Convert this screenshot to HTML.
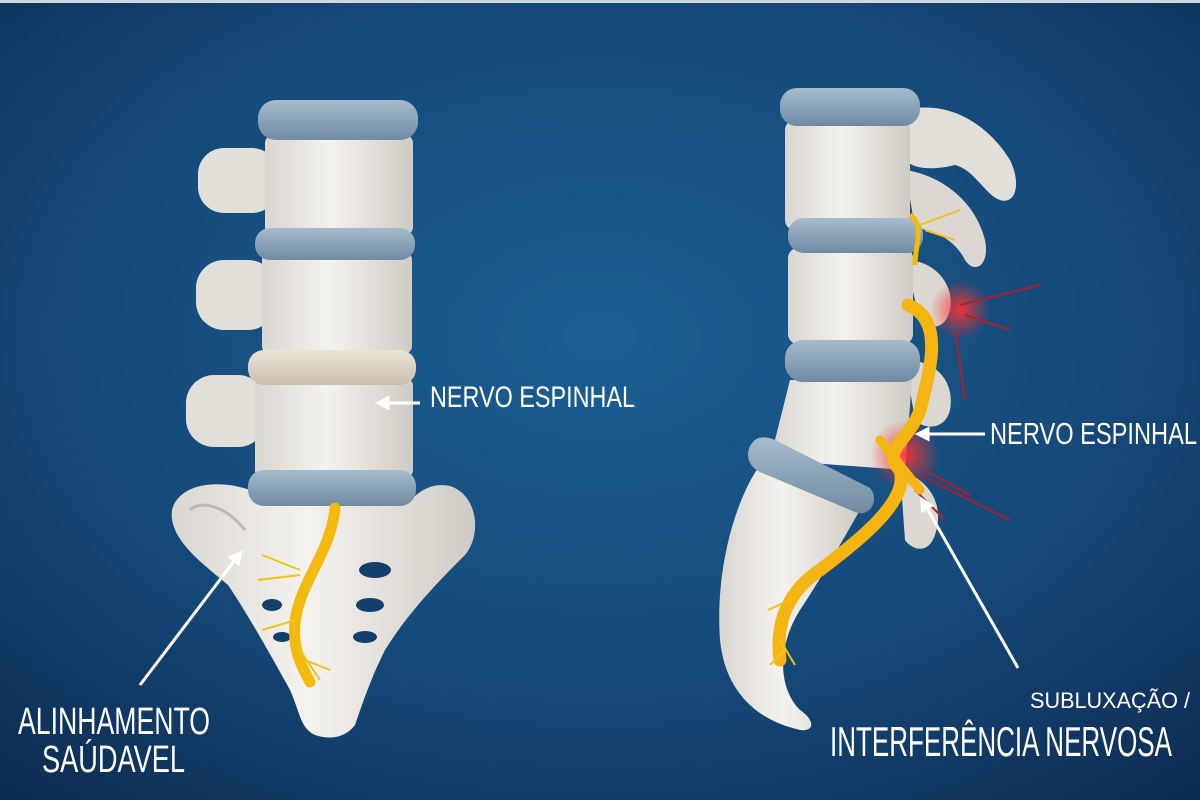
<!DOCTYPE html>
<html><head><meta charset="utf-8"><style>
html,body{margin:0;padding:0;width:1200px;height:800px;overflow:hidden;background:#123a66}
svg{display:block}
text{font-family:"Liberation Sans Narrow","Liberation Sans",sans-serif;fill:#fff}
</style></head><body>
<svg width="1200" height="800" viewBox="0 0 1200 800" xmlns="http://www.w3.org/2000/svg">
<defs>
<radialGradient id="bg" cx="0.5" cy="0.42" r="0.75">
<stop offset="0" stop-color="#1c5f93"/><stop offset="0.6" stop-color="#154878"/><stop offset="1" stop-color="#0d2c52"/>
</radialGradient>
<linearGradient id="bone" x1="0" y1="0" x2="1" y2="0">
<stop offset="0" stop-color="#d9d6d0"/><stop offset="0.45" stop-color="#f4f2ee"/><stop offset="1" stop-color="#cfcbc4"/>
</linearGradient>
<linearGradient id="disc" x1="0" y1="0" x2="0" y2="1">
<stop offset="0" stop-color="#a6bccd"/><stop offset="1" stop-color="#6f8aa2"/>
</linearGradient>
<linearGradient id="discb" x1="0" y1="0" x2="0" y2="1">
<stop offset="0" stop-color="#ebe4d6"/><stop offset="1" stop-color="#c9bfad"/>
</linearGradient>
<radialGradient id="glow"><stop offset="0" stop-color="#ff3030" stop-opacity="0.9"/><stop offset="1" stop-color="#ff3030" stop-opacity="0"/></radialGradient>
<marker id="ah" viewBox="0 0 10 10" refX="5" refY="5" markerWidth="5" markerHeight="5" orient="auto-start-reverse"><path d="M0,0 L10,5 L0,10 z" fill="#fff"/></marker>
</defs>
<rect width="1200" height="800" fill="url(#bg)"/>
<rect width="1200" height="3" fill="#cfd8e0"/>

<!-- LEFT SPINE -->
<g>
<!-- sacrum -->
<path d="M250,490 C215,478 178,485 172,510 C168,540 205,565 228,585 C245,610 268,650 290,690 C300,712 300,728 315,735 C330,740 345,738 355,725 C362,705 370,680 385,650 C410,610 440,580 465,555 C482,535 478,495 450,486 C430,482 420,492 410,500 Z" fill="url(#bone)"/>
<path d="M190,510 C200,500 225,505 245,530" stroke="#bdb8b0" stroke-width="3" fill="none"/>
<ellipse cx="375" cy="570" rx="16" ry="8" fill="#123f6c"/>
<ellipse cx="370" cy="605" rx="14" ry="7" fill="#123f6c"/>
<ellipse cx="365" cy="637" rx="12" ry="6" fill="#123f6c"/>
<ellipse cx="272" cy="605" rx="10" ry="6" fill="#123f6c"/>
<ellipse cx="282" cy="637" rx="9" ry="5" fill="#123f6c"/>
<!-- processes -->
<rect x="198" y="148" width="80" height="65" rx="26" fill="#e2dfd9"/>
<rect x="196" y="260" width="80" height="70" rx="28" fill="#e2dfd9"/>
<rect x="186" y="375" width="80" height="72" rx="28" fill="#e2dfd9"/>
<!-- bodies -->
<rect x="265" y="135" width="148" height="100" rx="8" fill="url(#bone)"/>
<rect x="262" y="252" width="150" height="102" rx="8" fill="url(#bone)"/>
<rect x="255" y="378" width="158" height="100" rx="8" fill="url(#bone)"/>
<!-- discs -->
<rect x="258" y="100" width="160" height="40" rx="18" fill="url(#disc)"/>
<rect x="255" y="228" width="160" height="32" rx="15" fill="url(#disc)"/>
<rect x="248" y="350" width="168" height="35" rx="16" fill="url(#discb)"/>
<rect x="248" y="470" width="168" height="36" rx="16" fill="url(#disc)"/>
<!-- nerve -->
<path d="M335,508 C330,560 290,590 295,640 C297,660 305,672 310,682" stroke="#f2b90e" stroke-width="11" fill="none" stroke-linecap="round"/>
<path d="M300,570 L262,555 M300,575 L258,580 M296,620 L262,630 M300,650 L320,680 M305,660 L330,670" stroke="#f2c21a" stroke-width="2" fill="none"/>
</g>

<!-- RIGHT SPINE -->
<g>
<!-- processes/spinous -->
<path d="M905,110 C945,100 985,120 1010,160 C1022,185 1015,205 1000,200 C985,195 975,170 955,165 C935,170 915,170 905,160 Z" fill="#e2dfd9"/>
<path d="M905,170 C940,175 975,200 985,240 C990,265 975,275 965,260 C955,240 935,230 915,228 Z" fill="#dcd8d1"/>
<path d="M905,260 C935,260 955,285 950,310 C945,330 930,330 920,320 Z" fill="#dcd8d1"/>
<path d="M905,360 C935,360 955,380 950,410 C945,430 925,430 915,420 Z" fill="#dcd8d1"/>
<path d="M900,470 C930,480 945,505 935,535 C928,555 912,550 905,540 Z" fill="#dcd8d1"/>
<!-- sacrum -->
<path d="M760,465 C735,500 715,570 720,640 C725,690 755,720 800,730 C815,732 815,720 800,710 C780,690 775,650 800,610 C820,580 840,545 860,510 Z" fill="url(#bone)"/>
<!-- bodies -->
<rect x="785" y="120" width="125" height="110" rx="10" fill="url(#bone)"/>
<rect x="788" y="248" width="125" height="96" rx="10" fill="url(#bone)"/>
<path d="M790,380 L912,380 L905,470 L770,460 Z" fill="url(#bone)"/>
<!-- discs -->
<rect x="780" y="88" width="140" height="38" rx="17" fill="url(#disc)"/>
<rect x="788" y="218" width="135" height="35" rx="16" fill="url(#disc)"/>
<rect x="785" y="340" width="135" height="42" rx="18" fill="url(#disc)"/>
<path d="M755,440 C745,448 745,465 760,472 L855,512 C870,518 880,500 870,488 L775,440 C768,437 760,436 755,440 Z" fill="url(#disc)"/>
<!-- glows -->
<circle cx="960" cy="310" r="30" fill="url(#glow)"/>
<circle cx="905" cy="455" r="35" fill="url(#glow)"/>
<path d="M960,305 L1040,285 M965,315 L1010,330 M955,330 L965,400" stroke="#b0202a" stroke-width="2" fill="none"/>
<path d="M920,475 L1010,520 M925,470 L970,495 M915,490 L945,520" stroke="#b0202a" stroke-width="2" fill="none"/>
<!-- nerve -->
<path d="M910,215 C925,225 915,245 915,265" stroke="#f2b90e" stroke-width="5" fill="none"/>
<path d="M908,305 C945,320 930,370 920,410 C910,440 880,450 900,470 C910,500 860,540 820,570 C790,590 775,620 780,660" stroke="#f4b411" stroke-width="13" fill="none" stroke-linecap="round"/>
<path d="M880,440 L900,465 L920,490" stroke="#f4b411" stroke-width="9" fill="none" stroke-linecap="round"/>
<path d="M790,600 L768,610 M780,640 L795,665 M785,650 L770,665 M920,225 L960,210 M925,230 L955,240" stroke="#f2c21a" stroke-width="2" fill="none"/>
</g>

<!-- labels & arrows -->
<line x1="420" y1="403" x2="382" y2="403" stroke="#fff" stroke-width="3" marker-end="url(#ah)"/>
<text x="430" y="407" font-size="30" textLength="205" lengthAdjust="spacingAndGlyphs">NERVO ESPINHAL</text>
<line x1="985" y1="434" x2="922" y2="434" stroke="#fff" stroke-width="3" marker-end="url(#ah)"/>
<text x="990" y="444" font-size="31" textLength="207" lengthAdjust="spacingAndGlyphs">NERVO ESPINHAL</text>
<line x1="140" y1="685" x2="238" y2="556" stroke="#fff" stroke-width="3" marker-end="url(#ah)"/>
<text x="18" y="734" font-size="38" textLength="192" lengthAdjust="spacingAndGlyphs">ALINHAMENTO</text>
<text x="42" y="772" font-size="38" textLength="143" lengthAdjust="spacingAndGlyphs">SAÚDAVEL</text>
<line x1="1018" y1="668" x2="924" y2="503" stroke="#fff" stroke-width="3" marker-end="url(#ah)"/>
<text x="1030" y="708" font-size="22" textLength="160" lengthAdjust="spacingAndGlyphs">SUBLUXAÇÃO /</text>
<text x="830" y="756" font-size="42" textLength="342" lengthAdjust="spacingAndGlyphs">INTERFERÊNCIA NERVOSA</text>
</svg>
</body></html>
